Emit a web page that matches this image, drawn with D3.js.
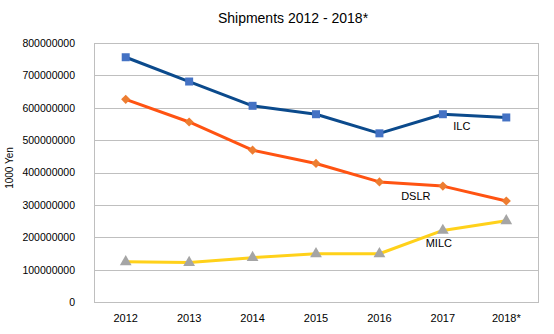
<!DOCTYPE html>
<html>
<head>
<meta charset="utf-8">
<script src="https://cdn.jsdelivr.net/npm/d3@7"></script>
<style>
  body { margin: 0; background: #fff; }
  text { font-family: "Liberation Sans", "DejaVu Sans", sans-serif; fill: #000; }
</style>
</head>
<body>
<div class="box"></div>
<script>
// data
const years = ['2012', '2013', '2014', '2015', '2016', '2017', '2018*'];
const ilc  = [756000000, 681000000, 606000000, 580000000, 521000000, 580000000, 570000000];
const dslr = [626000000, 556000000, 469000000, 428000000, 371000000, 358000000, 312000000];
const milc = [124000000, 122000000, 137000000, 149000000, 149000000, 221000000, 251000000];
const yTicks = [0, 100000000, 200000000, 300000000, 400000000, 500000000, 600000000, 700000000, 800000000];

const series = [
  {name: 'ILC',  values: ilc,  line: '#0B4A8C', mark: '#4472C4', shape: d3.symbolSquare,   size: 64, rot: 0,  dx: 19, dy: 16},
  {name: 'DSLR', values: dslr, line: '#FF5312', mark: '#ED7D31', shape: d3.symbolSquare,   size: 42, rot: 45, dx: -27, dy: 14},
  {name: 'MILC', values: milc, line: '#FFD11A', mark: '#A5A5A5', shape: d3.symbolTriangle, size: 60, rot: 0,  dx: -4, dy: 17}
];

const width = 554, height = 334;
const margin = {top: 43, right: 16, bottom: 32, left: 94};
const graphWidth = width - margin.left - margin.right;
const graphHeight = height - margin.top - margin.bottom;

const svg = d3.select('.box')
              .append('svg')
              .attr('width', width)
              .attr('height', height);

svg.append('text')
   .attr('x', 293)
   .attr('y', 23)
   .attr('text-anchor', 'middle')
   .style('font-size', '14px')
   .text('Shipments 2012 - 2018*');

svg.append('text')
   .attr('transform', `translate(13, 168) rotate(-90)`)
   .attr('text-anchor', 'middle')
   .style('font-size', '10px')
   .text('1000 Yen');

const graph = svg.append('g')
                 .attr('transform', `translate(${margin.left}, ${margin.top})`);

const x = d3.scaleBand()
            .domain(years)
            .range([0, graphWidth]);

const y = d3.scaleLinear()
            .domain([0, 800000000])
            .range([graphHeight, 0]);

// gridlines
graph.append('g')
     .selectAll('line')
     .data(yTicks)
     .enter()
     .append('line')
     .attr('x1', 0)
     .attr('x2', graphWidth)
     .attr('y1', d => Math.round(y(d)) + 0.5)
     .attr('y2', d => Math.round(y(d)) + 0.5)
     .attr('stroke', '#BFBFBF')
     .attr('stroke-width', 1);

// plot border
graph.append('rect')
     .attr('x', 0.5)
     .attr('y', 0.5)
     .attr('width', graphWidth)
     .attr('height', Math.round(graphHeight))
     .attr('fill', 'none')
     .attr('stroke', '#BFBFBF');

// axes
const axeY = d3.axisLeft(y)
               .tickValues(yTicks)
               .tickSize(0)
               .tickPadding(19)
               .tickFormat(d3.format('d'));
const groupeY = graph.append('g').call(axeY);
groupeY.select('.domain').remove();
groupeY.selectAll('text').style('font-size', '10.5px');

const axeX = d3.axisBottom(x).tickSize(0).tickPadding(12);
const groupeX = graph.append('g')
                     .attr('transform', `translate(0, ${graphHeight})`)
                     .call(axeX);
groupeX.select('.domain').remove();
groupeX.selectAll('text').style('font-size', '11px');

const cx = d => x(d) + x.bandwidth() / 2;

const valueLine = d3.line()
                    .x((d, i) => cx(years[i]))
                    .y(d => y(d));

series.forEach(s => {
  graph.append('path')
       .attr('d', valueLine(s.values))
       .attr('fill', 'none')
       .attr('stroke', s.line)
       .attr('stroke-width', 3)
       .attr('stroke-linejoin', 'round');

  graph.selectAll(null)
       .data(s.values)
       .enter()
       .append('path')
       .attr('d', d3.symbol().type(s.shape).size(s.size))
       .attr('transform', (d, i) => `translate(${cx(years[i])}, ${y(d)}) rotate(${s.rot})`)
       .attr('fill', s.mark);

  // data label next to 2017 point
  graph.append('text')
       .attr('x', cx(years[5]) + s.dx)
       .attr('y', y(s.values[5]) + s.dy)
       .attr('text-anchor', 'middle')
       .style('font-size', '11px')
       .text(s.name);
});
</script>
</body>
</html>
